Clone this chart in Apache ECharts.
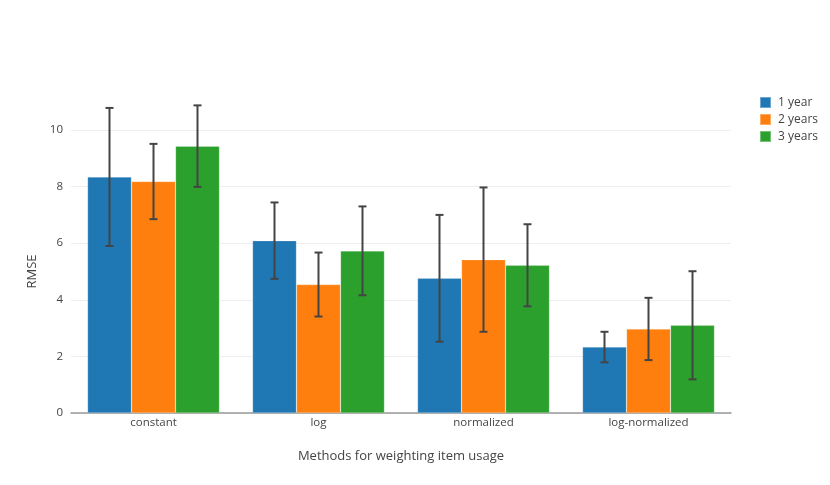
<!DOCTYPE html>
<html><head><meta charset="utf-8">
<script src="https://cdn.jsdelivr.net/npm/echarts@6/dist/echarts.min.js"></script>
<style>html,body{margin:0;padding:0;background:#fff}#c{width:830px;height:485px}</style>
</head><body><div id="c"></div>
<script>
var categories = ['constant', 'log', 'normalized', 'log-normalized'];
var seriesNames = ['1 year', '2 years', '3 years'];
var year1 = [8.34, 6.09, 4.76, 2.33];
var year2 = [8.18, 4.54, 5.42, 2.97];
var year3 = [9.43, 5.73, 5.22, 3.10];
var err1 = [2.44, 1.35, 2.24, 0.54];
var err2 = [1.33, 1.13, 2.55, 1.10];
var err3 = [1.44, 1.57, 1.45, 1.91];
var yTicks = [0, 2, 4, 6, 8, 10];

var colors = ['#1f77b4', '#ff7f0e', '#2ca02c'];
var values = [year1, year2, year3];
var errs = [err1, err2, err3];
var font = '"Open Sans", sans-serif';

var chart = echarts.init(document.getElementById('c'));
var series = [];
values.forEach(function (vals, i) {
  series.push({
    name: seriesNames[i], type: 'bar', data: vals,
    barGap: '0%', barCategoryGap: '20%',
    itemStyle: { color: colors[i], borderColor: 'rgba(255,255,255,0.35)', borderWidth: 0.6 },
    emphasis: { disabled: true }
  });
});
values.forEach(function (vals, i) {
  series.push({
    type: 'custom', clip: false, z: 10, silent: true,
    data: vals.map(function (v, k) { return [k, v - errs[i][k], v + errs[i][k]]; }),
    renderItem: function (params, api) {
      var band = api.size([1, 0])[0];
      var bw = band * 0.8 / 3;
      var off = (i - 1) * bw;
      var lo = api.coord([api.value(0), api.value(1)]);
      var hi = api.coord([api.value(0), api.value(2)]);
      var x = lo[0] + off;
      var h = 4;
      var st = { stroke: '#444', lineWidth: 2 };
      return { type: 'group', children: [
        { type: 'line', shape: { x1: x, y1: lo[1], x2: x, y2: hi[1] }, style: st },
        { type: 'line', shape: { x1: x - h, y1: lo[1], x2: x + h, y2: lo[1] }, style: st },
        { type: 'line', shape: { x1: x - h, y1: hi[1], x2: x + h, y2: hi[1] }, style: st }
      ]};
    }
  });
});

chart.setOption({
  animation: false,
  textStyle: { fontFamily: font },
  grid: { left: 71, right: 99, top: 130, bottom: 72, containLabel: false, outerBoundsMode: 'none' },
  legend: {
    data: seriesNames, orient: 'vertical', left: 754, top: 91,
    itemWidth: 11, itemHeight: 11, itemGap: 4,
    icon: 'rect',
    textStyle: { color: '#444', fontSize: 12, fontFamily: font, padding: [0, 0, 0, 2] }
  },
  xAxis: {
    type: 'category', data: categories,
    name: 'Methods for weighting item usage', nameLocation: 'middle', nameGap: 37,
    nameTextStyle: { color: '#444', fontSize: 13, fontFamily: font },
    axisLine: { lineStyle: { color: '#999', width: 1.5 } },
    axisTick: { show: false },
    axisLabel: { color: '#444', fontSize: 11.5, margin: 4 }
  },
  yAxis: {
    type: 'value', min: 0, max: 10, interval: 2,
    name: 'RMSE', nameLocation: 'middle', nameGap: 32, nameRotate: 90,
    nameTextStyle: { color: '#444', fontSize: 13, fontFamily: font },
    axisLine: { show: false }, axisTick: { show: false },
    axisLabel: { color: '#444', fontSize: 11.5, margin: 8 },
    splitLine: { lineStyle: { color: '#eee', width: 1 } }
  },
  series: series
});
</script></body></html>
